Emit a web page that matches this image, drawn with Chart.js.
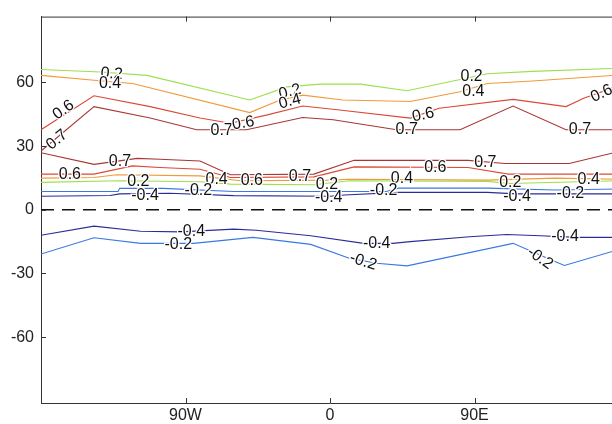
<!DOCTYPE html>
<html>
<head>
<meta charset="utf-8">
<script src="https://cdn.jsdelivr.net/npm/chart.js@4.4.0/dist/chart.umd.min.js"></script>
<style>
  html, body { margin: 0; padding: 0; background: #fff; overflow: hidden; }
  #wrap { position: absolute; left: 0; top: 0; width: 630px; height: 424px; }
</style>
</head>
<body>
<div id="wrap"><canvas id="myChart" width="630" height="424"></canvas></div>
<script>
// eixos
const xTicks = [-90, 0, 90];
const xTickLabels = ['90W', '0', '90E'];
const yTicks = [-60, -30, 0, 30, 60];

// contornos do hemisferio norte (faixa alta)
const c02nLon = [-180, -143, -114, -50, -27, -6, 19, 48, 98, 126, 180];
const c02nLat = [66.1, 64.9, 63.3, 51.7, 57.9, 59.2, 59.2, 56.1, 64.1, 65.2, 66.7];
const c04nLon = [-180, -147, -123, -50, -31, -17, 8, 50, 81, 98, 126, 180];
const c04nLat = [63.3, 61.0, 59.5, 45.8, 51.7, 54.0, 51.7, 51.0, 55.6, 59.5, 60.7, 63.5];
const c06nLon = [-180, -147, -112, -81, -62, -39, -17, 6, 50, 68, 114, 147, 158, 180];
const c06nLat = [37.7, 53.7, 48.6, 43.2, 40.8, 44.7, 48.9, 47.0, 43.2, 47.8, 52.0, 48.6, 52.5, 58.5];
const c07nLon = [-180, -147, -112, -83, -52, -17, 2, 41.5, 81, 114, 147, 180];
const c07nLat = [27.7, 48.6, 43.2, 37.7, 37.7, 43.5, 42.4, 37.7, 37.7, 48.9, 37.7, 37.7];

// faixa subtropical
const c07sLon = [-180, -147, -120, -106, -81, -62, -10, 15, 86, 109, 149, 180];
const c07sLat = [26.9, 21.4, 24.2, 23.8, 23.0, 16.5, 16.8, 23.3, 23.3, 21.8, 21.8, 27.5];
const c06sLon = [-180, -147, -123, -106, -81, -62, -10, 15, 86, 111, 180];
const c06sLat = [16.8, 16.8, 20.7, 19.9, 19.1, 15.2, 15.5, 20.2, 19.9, 16.8, 16.8];
const c04sLon = [-180, -147, -133, -81, -56, 0, 12, 98, 140, 180];
const c04sLat = [14.9, 15.2, 16.5, 16.0, 13.7, 14.0, 14.4, 14.0, 14.9, 14.4];
const c02sLon = [-180, -131, -81, -62, -10, 12, 98, 112, 180];
const c02sLat = [12.9, 13.7, 13.2, 12.1, 11.8, 13.7, 13.4, 12.4, 13.7];
const m02sLon = [-180, -132, -131, -104, -60, 35, 43, 98, 140, 180];
const m02sLat = [8.6, 8.6, 10.1, 10.1, 8.6, 8.6, 10.2, 10.2, 9.3, 9.8];
const m04sLon = [-180, -137, -131, -100, -60, 0, 9, 43, 98, 116, 180];
const m04sLat = [6.4, 6.7, 7.5, 7.8, 6.7, 6.4, 7.0, 8.2, 8.2, 7.5, 7.5];

// hemisferio sul
const m04hLon = [-180, -147, -118, -93, -60, -46, -12, 21, 39, 50, 87, 110, 131, 154, 180];
const m04hLat = [-12.0, -7.7, -10.1, -10.4, -9.1, -9.6, -12.2, -15.8, -15.8, -15.0, -12.7, -11.6, -12.2, -13.0, -13.0];
const m02hLon = [-180, -147, -118, -85, -48, -12, 12, 29, 48, 114, 139, 146, 180];
const m02hLat = [-20.8, -13.2, -15.8, -15.8, -13.0, -16.3, -22.8, -25.2, -26.4, -15.8, -24.0, -26.2, -18.7];

// linha do equador
const zeroLon = [-180, 180];
const zeroLat = [0, 0];

// rotulos dos contornos (texto, lon, lat, angulo)
const labelText  = ['0.2', '0.4', '0.6', '0.7', '0.7', '0.6', '0.2', '0.4', '0.7', '0.6', '0.2', '0.4', '0.7', '0.6',
                    '0.7', '0.6', '0.2', '-0.4', '0.4', '-0.2', '0.6', '0.7', '0.2', '-0.4', '0.4', '-0.2', '0.6', '0.7', '0.2', '-0.4', '0.4', '-0.2',
                    '-0.4', '-0.2', '-0.4', '-0.2', '-0.4', '-0.2'];
const labelLon   = [-136, -137, -166, -170, -67.5, -54, -25, -25, 47.8, 58, 88.2, 89.3, 155.7, 169.2,
                    -130.8, -162, -119.4, -115.2, -70.6, -82, -48.7, -18.7, -1.9, -0.8, 44.8, 33.4, 65.6, 96.7, 112.3, 116.5, 161.1, 149.7,
                    -86.4, -94.5, 29.1, 20.7, 146.4, 130.8];
const labelLat   = [64.1, 59.5, 47, 33, 37.4, 40.8, 55.6, 51, 37.7, 44.7, 62.9, 55.6, 37.7, 54.8,
                    22.7, 16.8, 13.4, 6.7, 14, 9, 13.7, 15.5, 12.1, 5.9, 14.9, 9, 19.9, 22.2, 12.9, 6.2, 14, 7.5,
                    -10.4, -16.6, -15.8, -24.4, -12.7, -22.8];
const labelAngle = [5, 0, -35, -40, 0, -10, -15, -15, 0, -12, 0, 0, 0, -25,
                    0, 0, 0, 0, 0, 0, 0, 0, 0, 0, 0, 0, 0, 0, 0, 0, 0, 0,
                    0, 0, 0, 18, 0, 35];

const colors = {
  c02: '#9ddf4c', c04: '#f09a38', c06: '#da4836', c07: '#a93636',
  m02: '#3b78e0', m04: '#2c2c98'
};

function pts(lon, lat) {
  return lon.map((v, i) => ({ x: v, y: lat[i] }));
}

function serie(lon, lat, cor, extra) {
  return Object.assign({
    data: pts(lon, lat),
    borderColor: cor,
    borderWidth: 1.1,
    pointRadius: 0,
    tension: 0,
    fill: false
  }, extra || {});
}

const datasets = [
  serie(zeroLon, zeroLat, '#111', { borderDash: [13, 8], borderWidth: 1.4 }),
  serie(c02nLon, c02nLat, colors.c02),
  serie(c04nLon, c04nLat, colors.c04),
  serie(c06nLon, c06nLat, colors.c06),
  serie(c07nLon, c07nLat, colors.c07),
  serie(c07sLon, c07sLat, colors.c07),
  serie(c06sLon, c06sLat, colors.c06),
  serie(c04sLon, c04sLat, colors.c04),
  serie(c02sLon, c02sLat, colors.c02),
  serie(m02sLon, m02sLat, colors.m02),
  serie(m04sLon, m04sLat, colors.m04),
  serie(m04hLon, m04hLat, colors.m04),
  serie(m02hLon, m02hLat, colors.m02)
];

// desenha rotulos, moldura superior e ticks internos
const extras = {
  id: 'extras',
  afterDatasetsDraw(chart) {
    const ctx = chart.ctx;
    const xs = chart.scales.x, ys = chart.scales.y;
    const a = chart.chartArea;
    ctx.save();
    ctx.font = '16px "Liberation Sans", Arial, sans-serif';
    ctx.textAlign = 'center';
    ctx.textBaseline = 'middle';
    labelText.forEach((t, i) => {
      const px = xs.getPixelForValue(labelLon[i]);
      const py = ys.getPixelForValue(labelLat[i]);
      ctx.save();
      ctx.translate(px, py);
      ctx.rotate(labelAngle[i] * Math.PI / 180);
      ctx.lineWidth = 2.5;
      ctx.strokeStyle = '#fff';
      ctx.strokeText(t, 0, 0);
      ctx.fillStyle = '#111';
      ctx.fillText(t, 0, 0);
      ctx.restore();
    });
    ctx.strokeStyle = '#333';
    ctx.lineWidth = 1;
    ctx.beginPath();
    ctx.moveTo(a.left, a.top + 0.5);
    ctx.lineTo(a.right, a.top + 0.5);
    xTicks.forEach(v => {
      const px = Math.round(xs.getPixelForValue(v)) + 0.5;
      ctx.moveTo(px, a.bottom);
      ctx.lineTo(px, a.bottom - 5);
      ctx.moveTo(px, a.top);
      ctx.lineTo(px, a.top + 5);
    });
    yTicks.forEach(v => {
      const py = Math.round(ys.getPixelForValue(v)) + 0.5;
      ctx.moveTo(a.left, py);
      ctx.lineTo(a.left + 5, py);
    });
    ctx.stroke();
    ctx.restore();
  }
};

const ctx = document.getElementById('myChart').getContext('2d');
window.myChart = new Chart(ctx, {
  type: 'line',
  data: { datasets: datasets },
  options: {
    responsive: false,
    animation: false,
    devicePixelRatio: 1,
    layout: { padding: { top: 12, right: 11, left: 0, bottom: 0 } },
    plugins: { legend: { display: false }, tooltip: { enabled: false } },
    scales: {
      x: {
        type: 'linear',
        min: -180,
        max: 180,
        afterBuildTicks: s => { s.ticks = xTicks.map(v => ({ value: v })); },
        afterFit: s => { s.height = 21; },
        grid: { display: false, drawTicks: false },
        border: { display: true, color: '#333', width: 1 },
        ticks: {
          padding: 3,
          color: '#222',
          font: { family: '"Liberation Sans", Arial, sans-serif', size: 16 },
          maxRotation: 0,
          callback: v => xTickLabels[xTicks.indexOf(v)]
        }
      },
      y: {
        type: 'linear',
        min: -91,
        max: 91,
        afterBuildTicks: s => { s.ticks = yTicks.map(v => ({ value: v })); },
        afterFit: s => { s.width = 41; },
        grid: { display: false, drawTicks: false },
        border: { display: true, color: '#333', width: 1 },
        ticks: {
          padding: 7,
          color: '#222',
          font: { family: '"Liberation Sans", Arial, sans-serif', size: 16 },
          callback: v => String(v)
        }
      }
    }
  },
  plugins: [extras]
});
</script>
</body>
</html>
